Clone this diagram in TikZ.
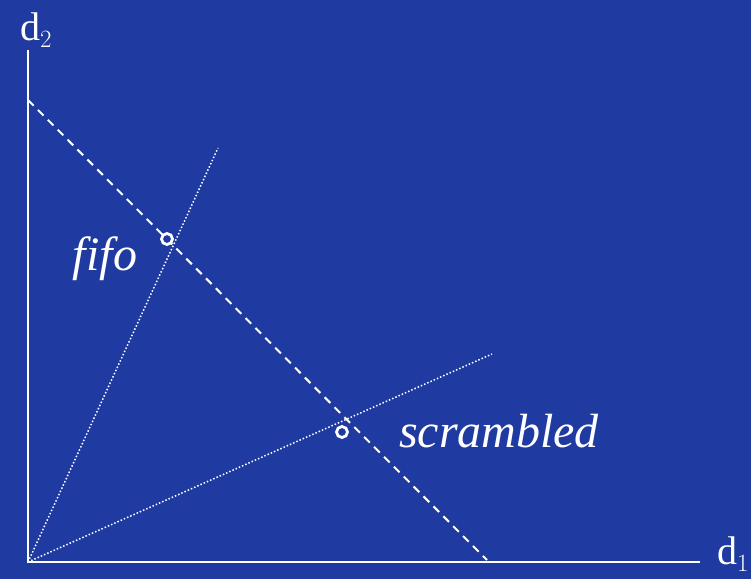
\documentclass[tikz,border=0pt]{standalone}
\usepackage{fontspec}
\setmainfont{Liberation Serif}
\usetikzlibrary{positioning}
\definecolor{slideblue}{RGB}{31,58,160}
\tikzset{axis/.style={draw=white,line width=2pt}}
\tikzset{split/.style={draw=white,line width=2pt,dash pattern=on 8pt off 6pt}}
\tikzset{ray/.style={draw=white,line width=1.5pt,dash pattern=on 1.5pt off 2pt}}
\tikzset{pt/.style={circle,draw=white,fill=slideblue,line width=2.8pt,inner sep=0pt,minimum size=11pt}}
\tikzset{lab/.style={text=white,font=\fontsize{48}{52}\selectfont\itshape}}
\tikzset{axlab/.style={text=white,font=\fontsize{40}{44}\selectfont}}

\begin{document}
\begin{tikzpicture}[x=1pt,y=1pt]
\useasboundingbox[fill=slideblue] (0,0) rectangle (751,579);
\coordinate (o) at (28,17);
\coordinate (ytop) at (28,529);
\coordinate (xend) at (700,17);
\draw[axis] (ytop) -- (o) -- (xend);
\node [axlab] at (36,549) (d2) {d$_2$};
\node [axlab] at (733,25) (d1) {d$_1$};

% cost line
\coordinate (s1) at (28,479);
\coordinate (s2) at (487,19);
\draw[split] (s1) -- (s2);

% rays
\coordinate (r1) at (218,431);
\coordinate (r2) at (492,225);
\draw[ray] (o) -- (r1);
\draw[ray] (o) -- (r2);

\node [pt] at (167,340) (fifo) {};
\node [pt] at (342,147) (scr) {};
\node [lab] at (105,320) (fifolab) {fifo};
\node [lab] at (499,148) (scrlab) {scrambled};
\end{tikzpicture}
\end{document}
